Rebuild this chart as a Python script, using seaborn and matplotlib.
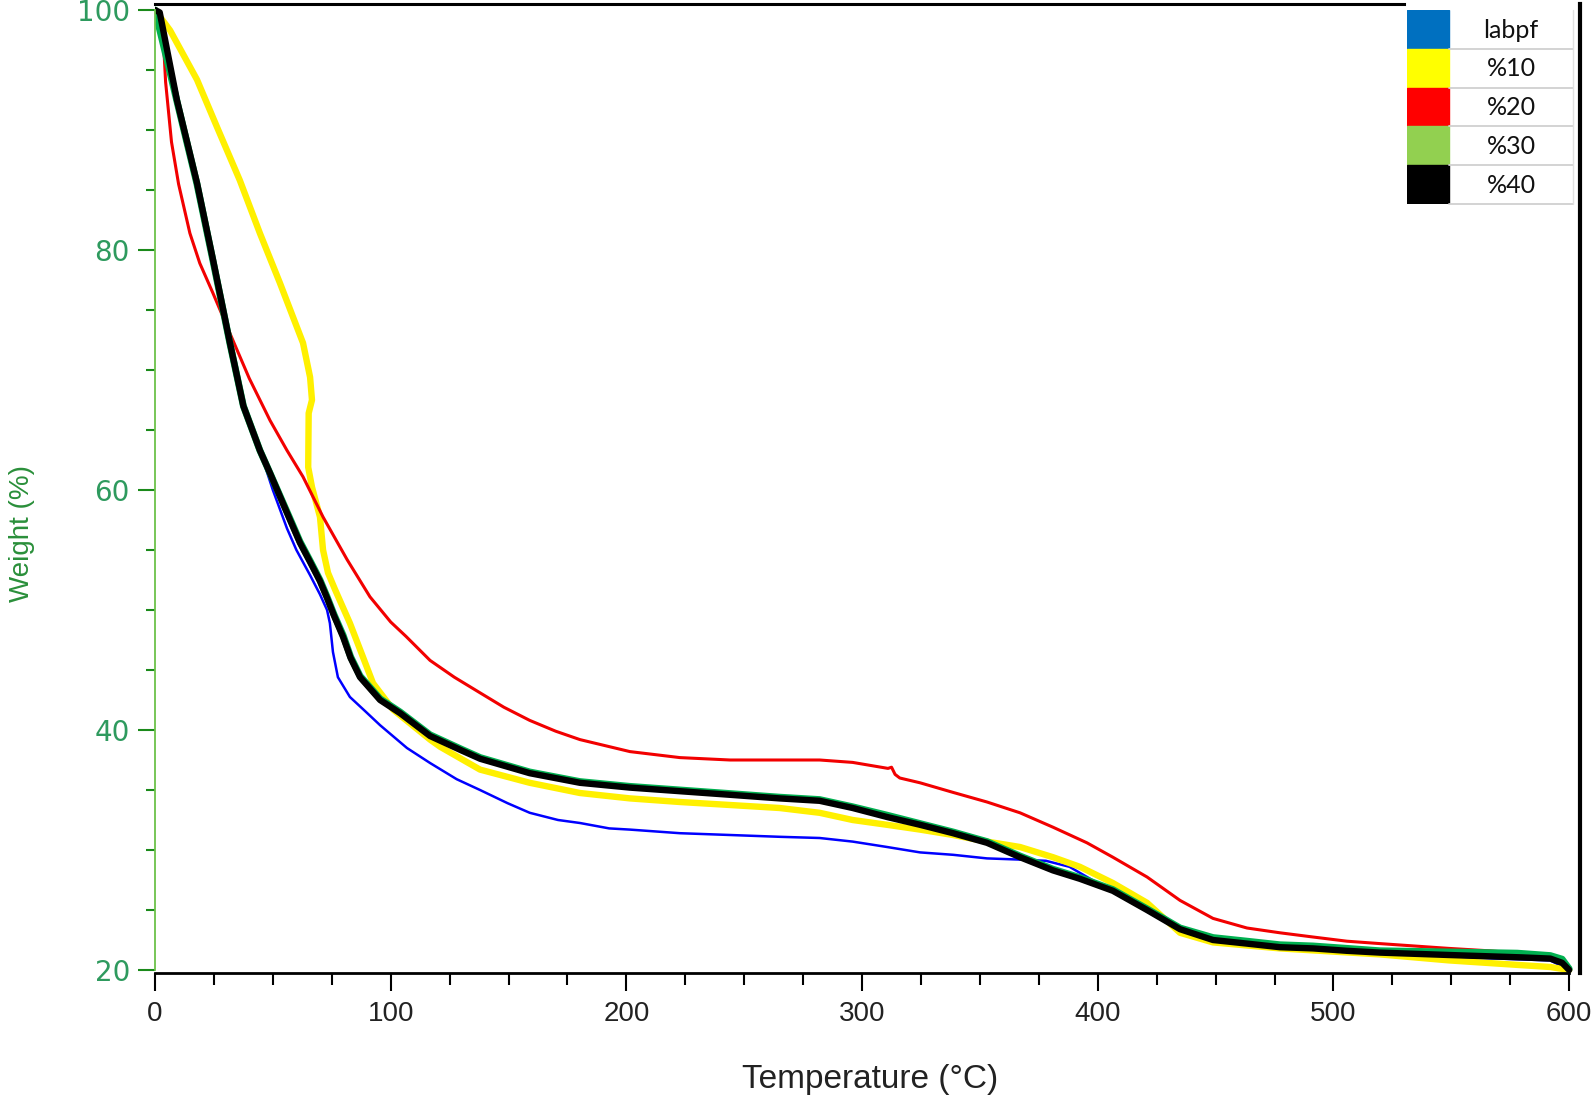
import numpy as np
import pandas as pd
import seaborn as sns
import matplotlib
matplotlib.use('Agg')
import matplotlib.pyplot as plt
from matplotlib.patches import Rectangle
from matplotlib.ticker import MultipleLocator

# TGA curves (temperature in C, weight in %)
labpf_t = [0, 9.3, 17.8, 24.6, 31.8, 37.5, 44.5, 50, 56, 60, 65.8, 70, 73, 74.2, 75.5, 77.6,
           82.7, 89, 95.5, 106.9, 116.7, 128, 137.9, 149.6, 159, 171, 180.3, 192.7, 201.5,
           222.7, 244, 265, 282, 296, 310.6, 324.6, 338.6, 353, 367, 378, 388, 406.4,
           420.9, 434.9, 448.9, 477.3, 519.7, 549, 592, 600]
labpf_w = [100, 92.5, 85.6, 79.2, 72.25, 67, 63.3, 60, 56.8, 55.0, 52.9, 51.3, 50, 48.9, 46.5, 44.4,
           42.75, 41.6, 40.4, 38.5, 37.25, 35.9, 35, 33.9, 33.1, 32.5, 32.25, 31.8, 31.7,
           31.4, 31.25, 31.1, 31.0, 30.7, 30.25, 29.8, 29.6, 29.3, 29.2, 29.1, 28.6, 26.5,
           24.9, 23.3, 22.4, 21.8, 21.3, 21.1, 20.8, 20.0]

p10_t = [0, 6.4, 17.8, 26.3, 36, 44.5, 53, 62.8, 65.8, 66.6, 65.2, 65.0, 66.6, 70, 71.3, 73.4,
         76.4, 82.7, 88.2, 92.5, 101, 116.7, 121, 137.9, 159, 180.3, 201.5, 222.7, 244, 265,
         282, 296, 310.6, 324.6, 338.6, 353, 367, 381, 392.4, 406.4, 420.9, 434.9, 448.9,
         477.3, 519.7, 549, 580, 592, 600]
p10_w = [100, 98.3, 94.2, 90.25, 85.8, 81.4, 77.25, 72.25, 69.4, 67.5, 66.4, 61.9, 60.25, 57.75, 55, 53.1,
         51.7, 48.9, 46.1, 43.9, 41.7, 39.2, 38.6, 36.7, 35.6, 34.75, 34.3, 34.0, 33.75, 33.5,
         33.1, 32.5, 32.1, 31.7, 31.25, 30.7, 30.25, 29.4, 28.6, 27.25, 25.6, 23.1, 22.3,
         21.8, 21.3, 20.8, 20.4, 20.25, 20.0]

p20_t = [0, 3.4, 4.5, 7, 10, 14.8, 19, 24.6, 33, 40, 48.8, 56, 62.8, 71.3, 81.5, 91.2, 100,
         106.5, 116.7, 127, 137.9, 148, 159, 170, 180.3, 201.5, 222.7, 244, 265, 282, 296, 308, 311, 312.5,
         314, 316, 324.6, 338.6, 353, 367, 381, 395.4, 406.4, 420.9, 434.9, 448.9, 463.3,
         477.3, 491.3, 505.7, 519.7, 549, 566, 585, 595, 600]
p20_w = [100, 98.1, 94, 89, 85.5, 81.4, 78.9, 76.4, 72.5, 69.3, 65.8, 63.3, 61.1, 57.75, 54.2, 51.1, 49,
         47.8, 45.8, 44.4, 43.1, 41.9, 40.8, 39.9, 39.2, 38.2, 37.7, 37.5, 37.5, 37.5, 37.3, 36.9, 36.8, 36.9,
         36.3, 36.0, 35.6, 34.8, 34.0, 33.1, 31.9, 30.6, 29.4, 27.75, 25.8, 24.3, 23.5,
         23.1, 22.75, 22.4, 22.2, 21.8, 21.6, 21.3, 21.0, 20.1]

p30_t = [0, 9.3, 17.8, 24.6, 31.8, 37.5, 44.5, 48.8, 57.3, 61.5, 65.8, 70, 73, 76, 79.8, 83, 87,
         95.5, 104, 116.7, 130, 138, 159, 180.3, 201.5, 222.7, 244, 265, 282, 296, 310.6,
         324.6, 338.6, 353, 367, 381, 392.4, 406.4, 420.9, 434.9, 448.9, 463.3, 477.3,
         491.3, 505.7, 519.7, 549, 578, 592, 597, 600]
p30_w = [100, 92.4, 85.5, 79.1, 72.2, 67, 63.3, 61.4, 57.6, 55.7, 54.1, 52.5, 51.1, 49.6, 47.9, 46.1, 44.5,
         42.6, 41.5, 39.6, 38.4, 37.7, 36.5, 35.7, 35.3, 35.0, 34.7, 34.4, 34.2, 33.6, 32.9,
         32.2, 31.5, 30.7, 29.5, 28.4, 27.7, 26.7, 25.1, 23.5, 22.7, 22.4, 22.1,
         22.0, 21.8, 21.6, 21.5, 21.4, 21.2, 20.9, 20.1]

p40_t = [0, 2, 9.3, 17.8, 24.6, 31.8, 37.5, 44.5, 48.8, 57.3, 61.5, 65.8, 70, 73, 76, 79.8, 83,
         87, 95.5, 104, 116.7, 130, 138, 159, 180.3, 201.5, 222.7, 244, 265, 282, 296, 310.6,
         324.6, 338.6, 353, 367, 381, 392.4, 406.4, 420.9, 434.9, 448.9, 463.3, 477.3,
         491.3, 505.7, 519.7, 549, 580, 592, 597, 600]
p40_w = [100, 99.8, 92.5, 85.6, 79.2, 72.25, 67, 63.3, 61.4, 57.5, 55.6, 54, 52.4, 51, 49.5, 47.75, 46,
         44.4, 42.5, 41.4, 39.5, 38.3, 37.6, 36.4, 35.6, 35.2, 34.9, 34.6, 34.3, 34.1, 33.5, 32.75,
         32.1, 31.4, 30.6, 29.4, 28.3, 27.6, 26.6, 25.0, 23.4, 22.5, 22.2, 21.9,
         21.8, 21.6, 21.45, 21.25, 21.05, 20.95, 20.6, 20.0]

legend_labels = ['labpf', '%10', '%20', '%30', '%40']
legend_colors = ['#0070c0', '#ffff00', '#ff0000', '#92d050', '#000000']

sns.set_theme(style='ticks')
plt.rcParams['font.family'] = ['Liberation Sans', 'DejaVu Sans']

W, H = 1593, 1102
fig = plt.figure(figsize=(W / 100, H / 100), dpi=100)
ax = fig.add_axes([155 / W, 129 / H, 1425 / W, 969 / H])

series = [
    (labpf_t, labpf_w, '#0000ff', 1.8),
    (p10_t, p10_w, '#fff000', 4.6),
    (p20_t, p20_w, '#f20000', 2.2),
    (p30_t, p30_w, '#00b050', 5.0),
    (p40_t, p40_w, '#000000', 4.6),
]
for t, w, c, lw in series:
    d = pd.DataFrame({'t': t, 'w': w})
    sns.lineplot(data=d, x='t', y='w', color=c, lw=lw, sort=False, estimator=None,
                 legend=False, ax=ax)

ax.set_xlim(0, 604.6)
ax.set_ylim(19.75, 100.5)
ax.set_xticks(range(0, 601, 100))
ax.set_yticks(range(20, 101, 20))
ax.xaxis.set_minor_locator(MultipleLocator(25))
ax.yaxis.set_minor_locator(MultipleLocator(5))

ax.spines['left'].set_color('#6cc24a')
ax.spines['left'].set_linewidth(1.3)
ax.spines['left'].set_bounds(20, 100)
ax.spines['bottom'].set_color('black')
ax.spines['bottom'].set_linewidth(2)
ax.spines['bottom'].set_bounds(0, 600)
ax.spines['top'].set_visible(True)
ax.spines['top'].set_color('black')
ax.spines['top'].set_linewidth(2.2)
ax.spines['top'].set_bounds(0, 530)
ax.spines['right'].set_visible(True)
ax.spines['right'].set_color('black')
ax.spines['right'].set_linewidth(3)

ax.tick_params(axis='x', which='major', direction='out', length=13, width=1.5,
               color='black', labelcolor='#222222', labelsize=20, pad=7)
ax.tick_params(axis='x', which='minor', direction='out', length=8.5, width=1.5, color='black')
ax.tick_params(axis='y', which='major', direction='out', length=12, width=1.5,
               color='#1a8a1a', labelcolor='#2e9a5e', labelsize=20, pad=6)
ax.tick_params(axis='y', which='minor', direction='out', length=6.5, width=1.5, color='#1a8a1a')
for lbl in ax.get_yticklabels():
    lbl.set_family('DejaVu Sans')

ax.set_xlabel('Temperature (°C)', fontsize=24, color='#222222')
ax.xaxis.set_label_coords(0.502, -0.094)
ax.set_ylabel('Weight (%)', fontsize=20, color='#2a8f3a')
ax.yaxis.set_label_coords(-0.084, 0.454)

# table-style legend in the upper right
lg = fig.add_axes([1407 / W, (H - 204) / H, 166 / W, 194 / H])
lg.set_xlim(0, 1)
lg.set_ylim(5, 0)
lg.axis('off')
for i, (name, col) in enumerate(zip(legend_labels, legend_colors)):
    lg.add_patch(Rectangle((0, i), 0.253, 1, color=col))
    lg.text(0.627, i + 0.52, name, ha='center', va='center', fontsize=18,
            family='Lato', color='#111111')
    lg.plot([0.253, 1], [i + 1, i + 1], color='#d0d0d0', lw=1.3, clip_on=False)
lg.plot([1, 1], [0, 5], color='#e0e0e0', lw=1, clip_on=False)

fig.savefig('out.png', dpi=100)
